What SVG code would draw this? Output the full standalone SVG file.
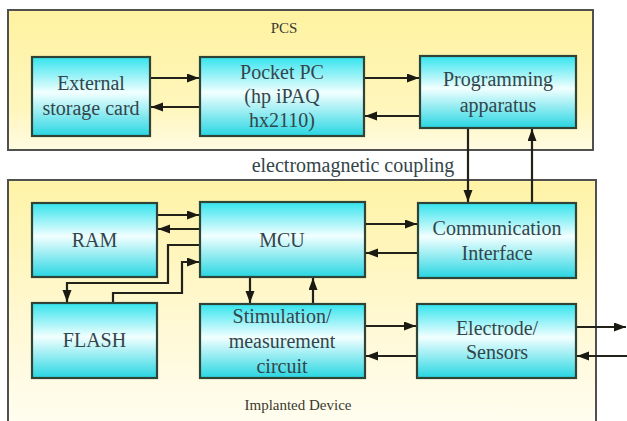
<svg xmlns="http://www.w3.org/2000/svg" width="627" height="421" viewBox="0 0 627 421">
<defs>
<linearGradient id="gBox" x1="0" y1="0" x2="0" y2="1">
<stop offset="0" stop-color="#34e4ee"/>
<stop offset="0.45" stop-color="#f2ffff"/>
<stop offset="1" stop-color="#28d6e2"/>
</linearGradient>
<linearGradient id="gTop" x1="0" y1="0" x2="0" y2="1">
<stop offset="0" stop-color="#fff2a0"/>
<stop offset="0.7" stop-color="#fff6bc"/>
<stop offset="1" stop-color="#fffbe2"/>
</linearGradient>
<linearGradient id="gBot" x1="0" y1="0" x2="0" y2="1">
<stop offset="0" stop-color="#fff3a6"/>
<stop offset="0.6" stop-color="#fff9d8"/>
<stop offset="1" stop-color="#fffef4"/>
</linearGradient>
<marker id="ah" markerUnits="userSpaceOnUse" markerWidth="13" markerHeight="10" refX="12" refY="4.5" orient="auto">
<path d="M0,0 L12,4.5 L0,9 z" fill="#1a1a12"/>
</marker>
</defs>
<style>
.cont{stroke:#505050;stroke-width:2}
.box{fill:url(#gBox);stroke:#2f4436;stroke-width:2.2}
.t{font-size:20px;fill:#34454a;text-anchor:middle}
.s{font-size:15px;fill:#3a3a30;text-anchor:middle}
.c{fill:none;stroke:#22221a;stroke-width:2.2;marker-end:url(#ah)}
</style>
<rect width="627" height="421" fill="#ffffff"/>
<g font-family="Liberation Serif, Times New Roman, serif">
<g id="pcs">
<rect class="cont" x="8" y="10" width="585" height="140" fill="url(#gTop)"/>
<text class="s" x="284" y="33">PCS</text>
</g>
<g id="implanted">
<rect class="cont" x="8" y="180" width="588" height="260" fill="url(#gBot)"/>
<text class="s" x="298" y="410">Implanted Device</text>
</g>
<text class="t" x="353" y="172">electromagnetic coupling</text>
<g id="connectors">
<path class="c" d="M150,78 H199"/>
<path class="c" d="M200,107 H151"/>
<path class="c" d="M364,78 H419"/>
<path class="c" d="M420,116 H365"/>
<path class="c" d="M468,128 V202"/>
<path class="c" d="M532,203 V129"/>
<path class="c" d="M157,215 H199"/>
<path class="c" d="M200,229 H158"/>
<path class="c" d="M200,245 H168 V283 H67 V302"/>
<path class="c" d="M113,303 V293 H182 V262 H199"/>
<path class="c" d="M250,277 V303"/>
<path class="c" d="M313,304 V278"/>
<path class="c" d="M365,224 H417"/>
<path class="c" d="M418,253 H366"/>
<path class="c" d="M365,326 H416"/>
<path class="c" d="M417,356 H366"/>
<path class="c" d="M576,327 H626"/>
<path class="c" d="M627,356 H577"/>
</g>
<g id="ext">
<rect class="box" x="32" y="57" width="118" height="79"/>
<text class="t" x="91" y="90">External</text>
<text class="t" x="91" y="115">storage card</text>
</g>
<g id="pocket">
<rect class="box" x="200" y="57" width="164" height="79"/>
<text class="t" x="282" y="79">Pocket PC</text>
<text class="t" x="282" y="103">(hp iPAQ</text>
<text class="t" x="282" y="127">hx2110)</text>
</g>
<g id="prog">
<rect class="box" x="420" y="56" width="156" height="72"/>
<text class="t" x="498" y="86">Programming</text>
<text class="t" x="498" y="112">apparatus</text>
</g>
<g id="ram">
<rect class="box" x="32" y="203" width="125" height="74"/>
<text class="t" x="94.5" y="247">RAM</text>
</g>
<g id="mcu">
<rect class="box" x="200" y="202" width="165" height="75"/>
<text class="t" x="282" y="247">MCU</text>
</g>
<g id="comm">
<rect class="box" x="418" y="203" width="158" height="75"/>
<text class="t" x="497" y="235">Communication</text>
<text class="t" x="497" y="260">Interface</text>
</g>
<g id="flash">
<rect class="box" x="32" y="303" width="125" height="75"/>
<text class="t" x="94.5" y="347">FLASH</text>
</g>
<g id="stim">
<rect class="box" x="200" y="304" width="165" height="74"/>
<text class="t" x="282" y="323">Stimulation/</text>
<text class="t" x="282" y="348">measurement</text>
<text class="t" x="282" y="373">circuit</text>
</g>
<g id="elec">
<rect class="box" x="417" y="304" width="159" height="74"/>
<text class="t" x="497" y="335">Electrode/</text>
<text class="t" x="497" y="359">Sensors</text>
</g>
</g>
</svg>
